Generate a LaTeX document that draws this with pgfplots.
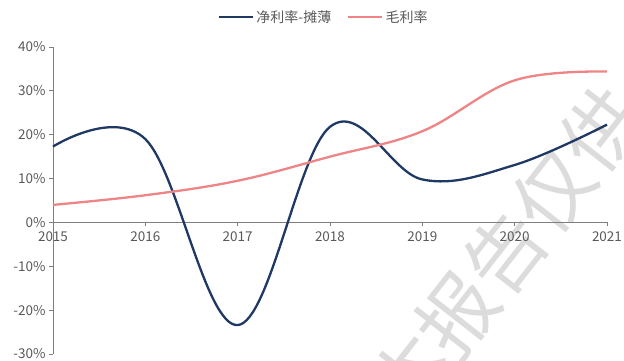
\documentclass[border=0pt]{standalone}
\usepackage{fontspec}
\setmainfont{Noto Sans CJK SC}
\usepackage{pgfplots}
\pgfplotsset{compat=1.18}
\definecolor{navy}{HTML}{203864}
\definecolor{pinkl}{HTML}{EE8486}
\definecolor{axgray}{HTML}{7F7F7F}
\definecolor{txtgray}{HTML}{595959}
\definecolor{wm}{HTML}{DCDCDC}
\pgfplotstableread{
year net gross
2015 17.3 4.0
2016 19.0 6.2
2017 -23.4 9.5
2018 21.8 15.0
2019 9.8 20.8
2020 13.1 32.4
2021 22.3 34.4
}\datatable
\begin{document}
\begin{tikzpicture}
\node[rotate=52, text=wm, font=\fontsize{78}{78}\selectfont, inner sep=0pt] at (505pt,107pt) {本报告仅供};
\begin{axis}[
  at={(53pt,6pt)}, anchor=south west,
  scale only axis, width=554pt, height=307pt,
  xmin=2015, xmax=2021, ymin=-30, ymax=40,
  axis x line=middle, axis y line=left,
  hide obscured x ticks=false, hide obscured y ticks=false,
  axis line style={-, draw=axgray, line width=0.8pt},
  every tick/.style={draw=axgray, line width=0.8pt},
  major tick length=4pt,
  tick align=outside,
  xtick={2015,2016,...,2021}, ytick={-30,-20,...,40},
  xticklabels={2015,2016,2017,2018,2019,2020,2021},
  yticklabel={\pgfmathprintnumber{\tick}\%},
  /pgf/number format/assume math mode=true,
  ticklabel style={font=\fontsize{13.5}{14}\selectfont, text=txtgray},
  xticklabel style={yshift=-2pt},
  legend columns=2,
  legend style={draw=none, fill=none, at={(0.489,1.098)}, anchor=center,
    font=\fontsize{14}{15}\selectfont, text=txtgray,
    /tikz/every even column/.append style={column sep=14pt}},
  legend image code/.code={\draw[#1] (0pt,0pt) -- (34pt,0pt);},
  clip=false,
]
\addplot[navy, line width=2.3pt, smooth, tension=0.62] table[x=year, y=net] {\datatable};
\addlegendentry{净利率-摊薄}
\addplot[pinkl, line width=2.3pt, smooth, tension=0.62] table[x=year, y=gross] {\datatable};
\addlegendentry{毛利率}
\end{axis}
\pgfresetboundingbox
\path[use as bounding box] (0,0) rectangle (624pt,360pt);
\end{tikzpicture}
\end{document}
